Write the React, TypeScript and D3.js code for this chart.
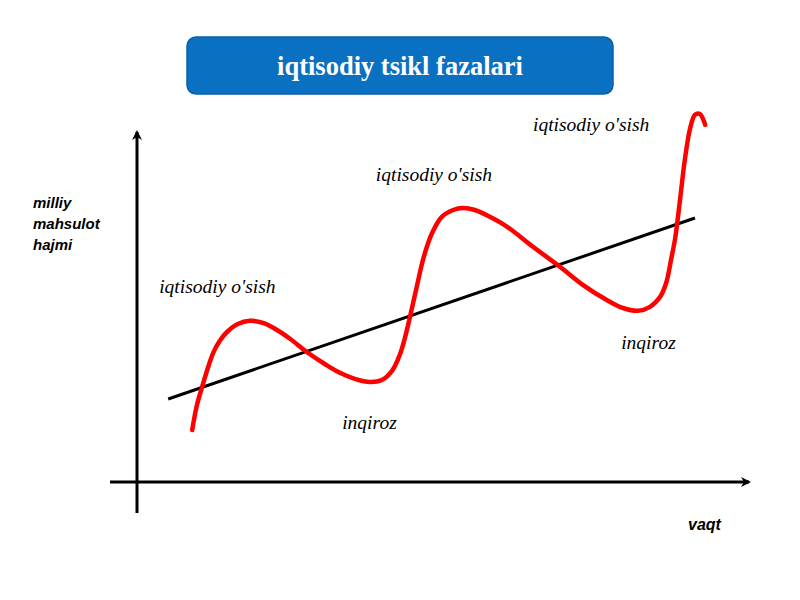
import * as d3 from "d3";

// business-cycle curve, in chart units (time 0..100, output 0..100)
const curveT = [
  9.2, 10, 10.8, 11.7, 12.7, 13.8, 15, 16.8, 18.8, 21, 23, 25.5, 28.3, 31.3,
  33.8, 36.3, 38.8, 40.8, 42.5, 43.8, 44.7, 45.5, 46.7, 47.8, 49.2, 50.8, 52.7,
  54.3, 56.3, 58.8, 61.7, 66, 70.5, 74.3, 78.3, 81, 83.5, 85.5, 87.2, 88.2, 89,
  89.7, 90.5, 91.3, 92.2, 93, 93.8, 94.7,
];
const curveY = [
  13, 19.3, 23.5, 28, 32.3, 35.3, 37.5, 39.5, 40.3, 39.8, 38.3, 35.8, 32.5,
  29.5, 27.3, 25.8, 25, 25.5, 27.8, 31.8, 36.3, 41.3, 49.3, 56.3, 62.3, 66.3,
  68, 68.5, 68, 66.3, 63.8, 58.8, 53.8, 49.3, 45.5, 43.5, 42.8, 43.8, 46.3,
  49.8, 55.5, 61, 70.5, 80.5, 88.5, 91.8, 92, 89.3,
];

// long-run trend line
const trendT = [5.2, 93];
const trendY = [20.75, 66];

// phase labels
const labelText = [
  "iqtisodiy o'sish",
  "iqtisodiy o'sish",
  "iqtisodiy o'sish",
  "inqiroz",
  "inqiroz",
];
const labelT = [3.7, 39.8, 66, 34.2, 80.7];
const labelY = [47.25, 75.25, 87.75, 13.25, 33.25];

const title = "iqtisodiy tsikl fazalari";
const yTitle = ["milliy", "mahsulot", "hajmi"];
const xTitle = "vaqt";

export default function App() {
  const width = 800;
  const height = 600;

  const x = d3.scaleLinear().domain([0, 100]).range([137, 737]);
  const y = d3.scaleLinear().domain([0, 100]).range([482, 82]);

  const line = d3
    .line<[number, number]>()
    .x((d) => x(d[0]))
    .y((d) => y(d[1]))
    .curve(d3.curveCatmullRom.alpha(0.5));

  const curve = curveT.map((t, i) => [t, curveY[i]] as [number, number]);
  const trend = trendT.map((t, i) => [t, trendY[i]] as [number, number]);

  return (
    <svg
      width={width}
      height={height}
      style={{ position: "absolute", left: 0, top: 0, background: "#fff" }}
    >
      <defs>
        <marker
          id="arrow"
          viewBox="0 0 10 10"
          refX="8"
          refY="5"
          markerWidth="10"
          markerHeight="10"
          markerUnits="userSpaceOnUse"
          orient="auto"
        >
          <path d="M0,0 L10,5 L0,10 L3,5 z" fill="#000" />
        </marker>
      </defs>

      {/* title box */}
      <rect
        x={187}
        y={37}
        width={426}
        height={57}
        rx={9}
        fill="#0a70c2"
        stroke="#0a5fa8"
        strokeWidth={1.5}
      />
      <text
        x={400}
        y={75}
        textAnchor="middle"
        fill="#fff"
        fontFamily="'Liberation Serif', serif"
        fontWeight="bold"
        fontSize={26.5}
      >
        {title}
      </text>

      {/* axes */}
      <line
        x1={x(0)}
        x2={x(0)}
        y1={y(-7.75)}
        y2={y(87.5)}
        stroke="#000"
        strokeWidth={3}
        markerEnd="url(#arrow)"
      />
      <line
        x1={x(-4.5)}
        x2={x(102)}
        y1={y(0)}
        y2={y(0)}
        stroke="#000"
        strokeWidth={3}
        markerEnd="url(#arrow)"
      />

      {/* trend */}
      <path d={line(trend) ?? ""} fill="none" stroke="#000" strokeWidth={3} />

      {/* cycle */}
      <path
        d={line(curve) ?? ""}
        fill="none"
        stroke="#ff0000"
        strokeWidth={4.5}
        strokeLinecap="round"
        strokeLinejoin="round"
      />

      {/* phase labels */}
      {labelText.map((t, i) => (
        <text
          key={i}
          x={x(labelT[i])}
          y={y(labelY[i])}
          fontFamily="'Liberation Serif', serif"
          fontStyle="italic"
          fontSize={19.5}
          fill="#000"
        >
          {t}
        </text>
      ))}

      {/* axis titles */}
      <text
        fontFamily="'Liberation Sans', sans-serif"
        fontStyle="italic"
        fontWeight="bold"
        fontSize={15}
        fill="#000"
      >
        {yTitle.map((t, i) => (
          <tspan key={i} x={33} y={208 + i * 21}>
            {t}
          </tspan>
        ))}
      </text>
      <text
        x={688}
        y={530}
        fontFamily="'Liberation Sans', sans-serif"
        fontStyle="italic"
        fontWeight="bold"
        fontSize={16}
        fill="#000"
      >
        {xTitle}
      </text>
    </svg>
  );
}
